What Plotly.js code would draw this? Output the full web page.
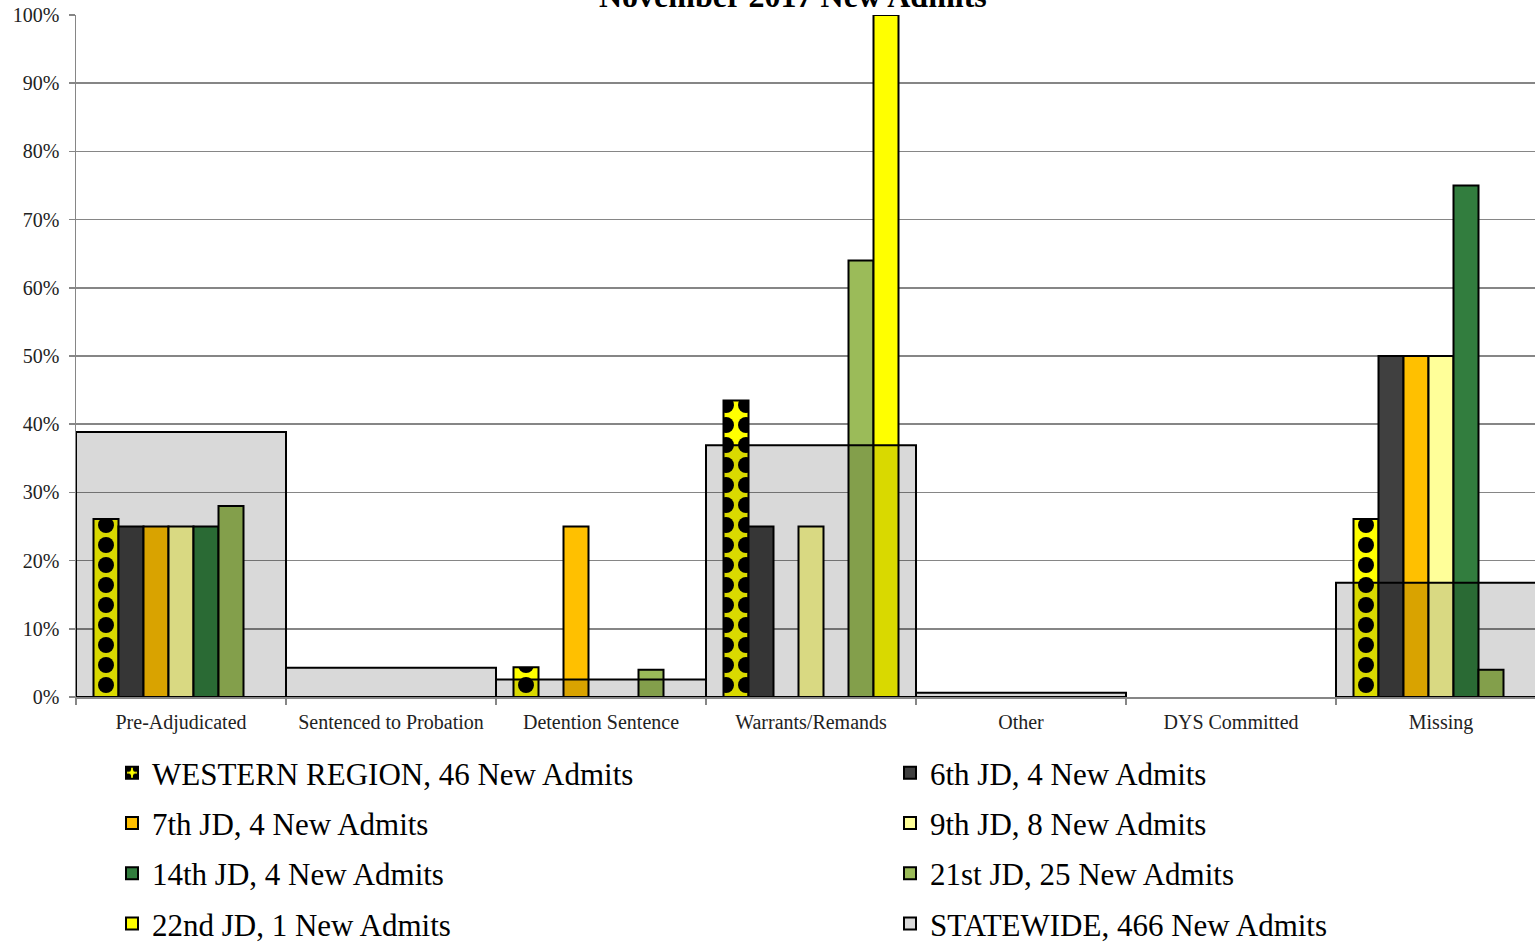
<!DOCTYPE html>
<html>
<head>
<meta charset="utf-8">
<script src="https://cdn.plot.ly/plotly-3.0.1.min.js"></script>
<style>
html,body{margin:0;padding:0;overflow:hidden;background:#fff;}
#chart{width:1546px;height:943px;}
</style>
</head>
<body>
<div id="chart"></div>
<script>
const categories = ["Pre-Adjudicated","Sentenced to Probation","Detention Sentence","Warrants/Remands","Other","DYS Committed","Missing"];
const westernRegion = [26.09, 0, 4.35, 43.48, 0, 0, 26.09];
const jd6 = [25, 0, 0, 25, 0, 0, 50];
const jd7 = [25, 0, 25, 0, 0, 0, 50];
const jd9 = [25, 0, 0, 25, 0, 0, 50];
const jd14 = [25, 0, 0, 0, 0, 0, 75];
const jd21 = [28, 0, 4, 64, 0, 0, 4];
const jd22 = [0, 0, 0, 100, 0, 0, 0];
const statewide = [38.84, 4.29, 2.58, 36.91, 0.64, 0, 16.74];
const seriesNames = ["WESTERN REGION, 46 New Admits","6th JD, 4 New Admits","7th JD, 4 New Admits","9th JD, 8 New Admits","14th JD, 4 New Admits","21st JD, 25 New Admits","22nd JD, 1 New Admits","STATEWIDE, 466 New Admits"];
const yTickVals = [0,10,20,30,40,50,60,70,80,90,100];
const yTickText = ["0%","10%","20%","30%","40%","50%","60%","70%","80%","90%","100%"];

const serif = "Liberation Serif, Times New Roman, serif";
const line = {color:"#000", width:2};
// zero values draw no bar (and no outline on the baseline)
const nz = y => y.map(v => v > 0 ? v : null);

function bar(y, name, color, legend, pattern){
  const m = {color:color, line:line};
  if (pattern) m.pattern = pattern;
  return {type:"bar", x:categories, y:nz(y), name:name, legend:legend, legendgroup:name,
    marker:m, hoverinfo:"skip"};
}

const traces = [
  bar(westernRegion, seriesNames[0], "#FFFF00", "legend",
      {shape:".", fgcolor:"#000", bgcolor:"#FFFF00", size:20, solidity:0.5, fillmode:"replace"}),
  bar(jd6, seriesNames[1], "#404040", "legend2"),
  bar(jd7, seriesNames[2], "#FFC000", "legend"),
  bar(jd9, seriesNames[3], "#FFFF99", "legend2"),
  bar(jd14, seriesNames[4], "#327D3E", "legend"),
  bar(jd21, seriesNames[5], "#9BBB59", "legend2"),
  bar(jd22, seriesNames[6], "#FFFF00", "legend"),
  {type:"bar", x:categories, y:nz(statewide), name:seriesNames[7], xaxis:"x2", yaxis:"y", width:1,
    legend:"legend2", legendgroup:seriesNames[7],
    marker:{color:"rgba(0,0,0,0.15)", line:line}, hoverinfo:"skip"}
];

const legendCommon = {orientation:"v", font:{family:serif, size:31, color:"#000"},
  bgcolor:"rgba(0,0,0,0)", borderwidth:0, tracegroupgap:7, xanchor:"left", yanchor:"top",
  xref:"container", yref:"container", itemclick:false};

const layout = {
  width:1546, height:943,
  margin:{l:76, r:0, t:15, b:246, pad:0, autoexpand:false},
  paper_bgcolor:"#fff", plot_bgcolor:"#fff",
  font:{family:serif, color:"#000"},
  barmode:"group", bargap:0.1667, bargroupgap:0,
  showlegend:true,
  xaxis:{type:"category", range:[-0.5,6.5], showgrid:false, showline:true, linecolor:"#868686", linewidth:1.5,
    ticks:"outside", tickson:"boundaries", ticklen:6, tickcolor:"#868686", tickwidth:1.5, ticklabelstandoff:6,
    tickfont:{family:serif, size:20, color:"#222"}, zeroline:false, fixedrange:true, automargin:false},
  xaxis2:{type:"category", range:[-0.5,6.5], overlaying:"x", visible:false, fixedrange:true},
  yaxis:{range:[0,100], tickvals:yTickVals, ticktext:yTickText, showgrid:true, gridcolor:"#868686", gridwidth:1.5,
    showline:true, linecolor:"#868686", linewidth:1.5, ticks:"outside", ticklen:6, tickcolor:"#868686", tickwidth:1.5,
    ticklabelstandoff:5, tickfont:{family:serif, size:20, color:"#222"}, zeroline:false, fixedrange:true, automargin:false},
  legend:Object.assign({x:112/1546, y:1-746/943}, legendCommon),
  legend2:Object.assign({x:890/1546, y:1-746/943}, legendCommon),
  annotations:[{text:"<b>November 2017 New Admits</b>", xref:"paper", yref:"paper", x:0.488, y:1, yanchor:"bottom", yshift:-1,
    showarrow:false, font:{family:serif, size:32, color:"#000"}}]
};

Plotly.newPlot("chart", traces, layout, {displayModeBar:false, staticPlot:true});
</script>
</body>
</html>
